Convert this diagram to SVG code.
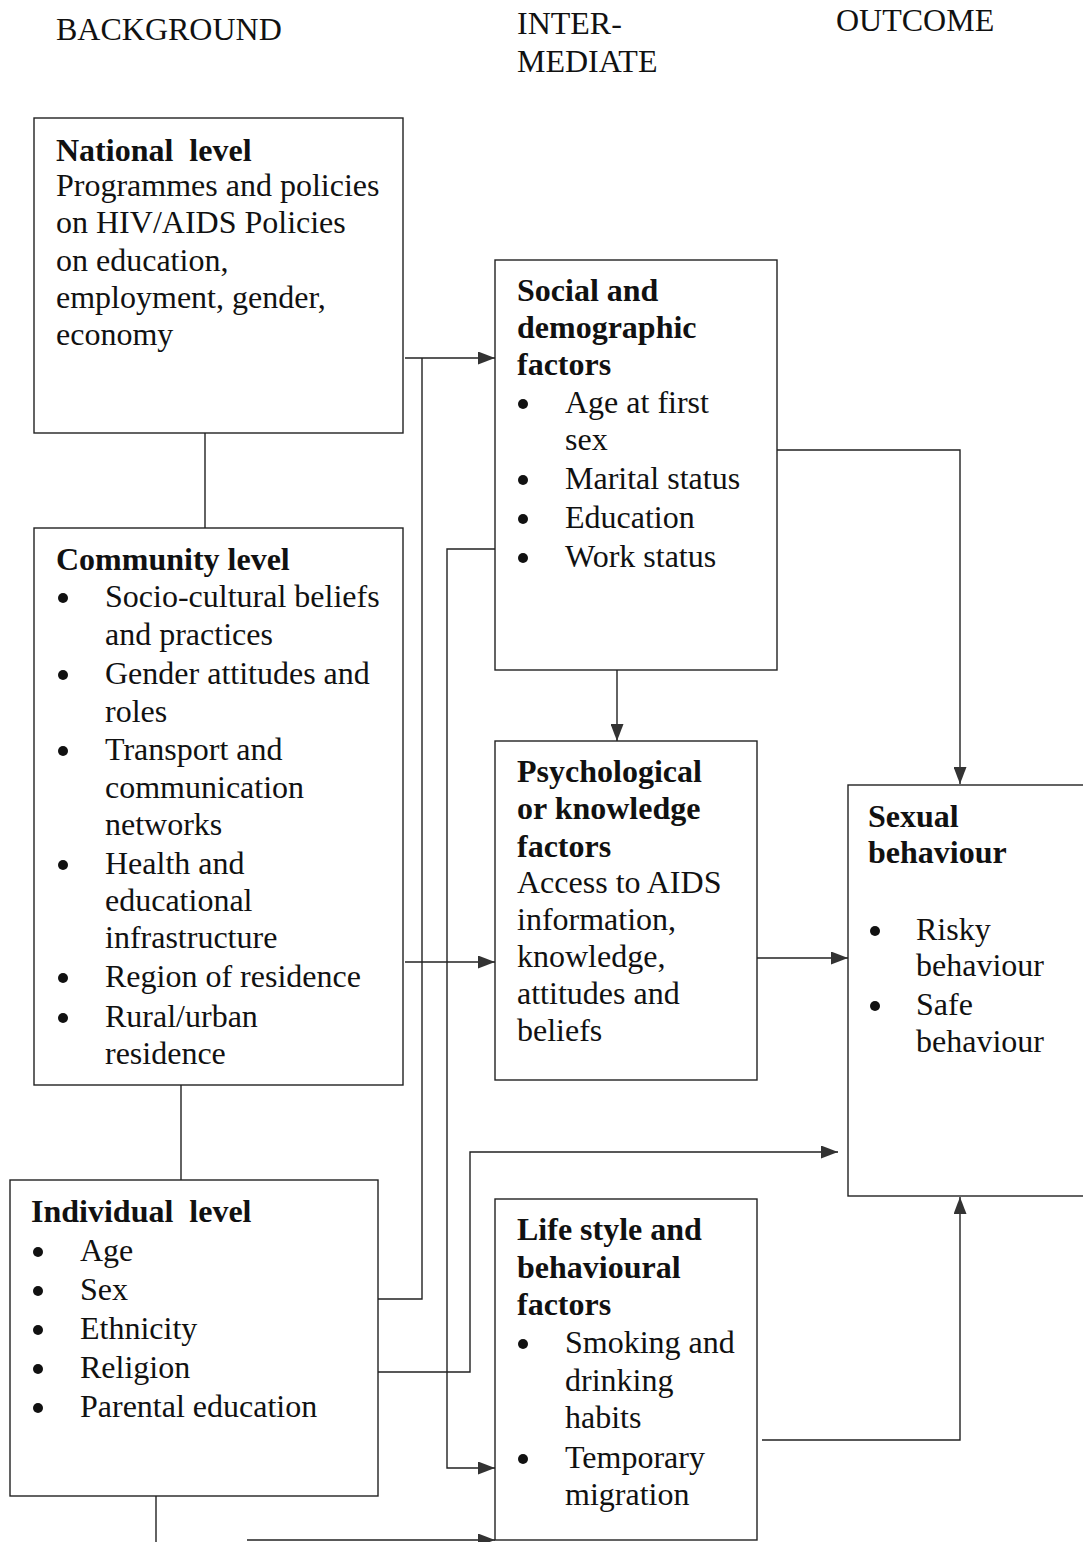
<svg xmlns="http://www.w3.org/2000/svg" width="1083" height="1542" viewBox="0 0 1083 1542">
<style>
text{font-family:"Liberation Serif","Times New Roman",serif;font-size:32px;fill:#111}
.b{font-weight:bold}
.box{fill:#fff;stroke:#222;stroke-width:1.4}
.c{fill:none;stroke:#222;stroke-width:1.4}
.dot{fill:#111}
</style>
<defs>
<marker id="ah" markerUnits="userSpaceOnUse" markerWidth="17" markerHeight="13" refX="17" refY="6.5" orient="auto">
<path d="M0,0 L17,6.5 L0,13 z" fill="#333"/>
</marker>
</defs>
<rect width="1083" height="1542" fill="#fff"/>
<g id="headers">
<text x="56" y="40">BACKGROUND</text>
<text x="517" y="34">INTER-</text>
<text x="517" y="72">MEDIATE</text>
<text x="836" y="31">OUTCOME</text>
</g>
<g id="connectors">
<path class="c" d="M405,358 H495" marker-end="url(#ah)"/>
<path class="c" d="M422,358 V1299 H375"/>
<path class="c" d="M405,962 H495" marker-end="url(#ah)"/>
<path class="c" d="M495,549 H447 V1468 H495" marker-end="url(#ah)"/>
<path class="c" d="M375,1372 H470 V1152 H838" marker-end="url(#ah)"/>
<path class="c" d="M156,1496 V1542"/>
<path class="c" d="M247,1540 H495" marker-end="url(#ah)"/>
<path class="c" d="M777,450 H960 V784" marker-end="url(#ah)"/>
<path class="c" d="M617,670 V741" marker-end="url(#ah)"/>
<path class="c" d="M757,958 H848" marker-end="url(#ah)"/>
<path class="c" d="M762,1440 H960 V1197" marker-end="url(#ah)"/>
<path class="c" d="M205,433 V528"/>
<path class="c" d="M181,1085 V1180"/>
</g>
<g id="national">
<rect class="box" x="34" y="118" width="369" height="315"/>
<text class="b" x="56" y="161">National&#160; level</text>
<text x="56" y="196">Programmes and policies</text>
<text x="56" y="233">on HIV/AIDS Policies</text>
<text x="56" y="271">on education,</text>
<text x="56" y="308">employment, gender,</text>
<text x="56" y="345">economy</text>
</g>
<g id="community">
<rect class="box" x="34" y="528" width="369" height="557"/>
<text class="b" x="56" y="570">Community level</text>
<circle class="dot" cx="63" cy="598" r="5"/>
<text x="105" y="607">Socio-cultural beliefs</text>
<text x="105" y="645">and practices</text>
<circle class="dot" cx="63" cy="675" r="5"/>
<text x="105" y="684">Gender attitudes and</text>
<text x="105" y="722">roles</text>
<circle class="dot" cx="63" cy="751" r="5"/>
<text x="105" y="760">Transport and</text>
<text x="105" y="798">communication</text>
<text x="105" y="835">networks</text>
<circle class="dot" cx="63" cy="865" r="5"/>
<text x="105" y="874">Health and</text>
<text x="105" y="911">educational</text>
<text x="105" y="948">infrastructure</text>
<circle class="dot" cx="63" cy="978" r="5"/>
<text x="105" y="987">Region of residence</text>
<circle class="dot" cx="63" cy="1018" r="5"/>
<text x="105" y="1027">Rural/urban</text>
<text x="105" y="1064">residence</text>
</g>
<g id="individual">
<rect class="box" x="10" y="1180" width="368" height="316"/>
<text class="b" x="31" y="1222">Individual&#160; level</text>
<circle class="dot" cx="38" cy="1252" r="5"/>
<text x="80" y="1261">Age</text>
<circle class="dot" cx="38" cy="1291" r="5"/>
<text x="80" y="1300">Sex</text>
<circle class="dot" cx="38" cy="1330" r="5"/>
<text x="80" y="1339">Ethnicity</text>
<circle class="dot" cx="38" cy="1369" r="5"/>
<text x="80" y="1378">Religion</text>
<circle class="dot" cx="38" cy="1408" r="5"/>
<text x="80" y="1417">Parental education</text>
</g>
<g id="social">
<rect class="box" x="495" y="260" width="282" height="410"/>
<text class="b" x="517" y="301">Social and</text>
<text class="b" x="517" y="338">demographic</text>
<text class="b" x="517" y="375">factors</text>
<circle class="dot" cx="523" cy="404" r="5"/>
<text x="565" y="413">Age at first</text>
<text x="565" y="450">sex</text>
<circle class="dot" cx="523" cy="480" r="5"/>
<text x="565" y="489">Marital status</text>
<circle class="dot" cx="523" cy="519" r="5"/>
<text x="565" y="528">Education</text>
<circle class="dot" cx="523" cy="558" r="5"/>
<text x="565" y="567">Work status</text>
</g>
<g id="psychological">
<rect class="box" x="495" y="741" width="262" height="339"/>
<text class="b" x="517" y="782">Psychological</text>
<text class="b" x="517" y="819">or knowledge</text>
<text class="b" x="517" y="857">factors</text>
<text x="517" y="893">Access to AIDS</text>
<text x="517" y="930">information,</text>
<text x="517" y="967">knowledge,</text>
<text x="517" y="1004">attitudes and</text>
<text x="517" y="1041">beliefs</text>
</g>
<g id="sexual">
<rect class="box" x="848" y="785" width="250" height="411"/>
<text class="b" x="868" y="827">Sexual</text>
<text class="b" x="868" y="863">behaviour</text>
<circle class="dot" cx="875" cy="931" r="5"/>
<text x="916" y="940">Risky</text>
<text x="916" y="976">behaviour</text>
<circle class="dot" cx="875" cy="1006" r="5"/>
<text x="916" y="1015">Safe</text>
<text x="916" y="1052">behaviour</text>
</g>
<g id="lifestyle">
<rect class="box" x="495" y="1199" width="262" height="341"/>
<text class="b" x="517" y="1240">Life style and</text>
<text class="b" x="517" y="1278">behavioural</text>
<text class="b" x="517" y="1315">factors</text>
<circle class="dot" cx="523" cy="1344" r="5"/>
<text x="565" y="1353">Smoking and</text>
<text x="565" y="1391">drinking</text>
<text x="565" y="1428">habits</text>
<circle class="dot" cx="523" cy="1459" r="5"/>
<text x="565" y="1468">Temporary</text>
<text x="565" y="1505">migration</text>
</g>
</svg>
